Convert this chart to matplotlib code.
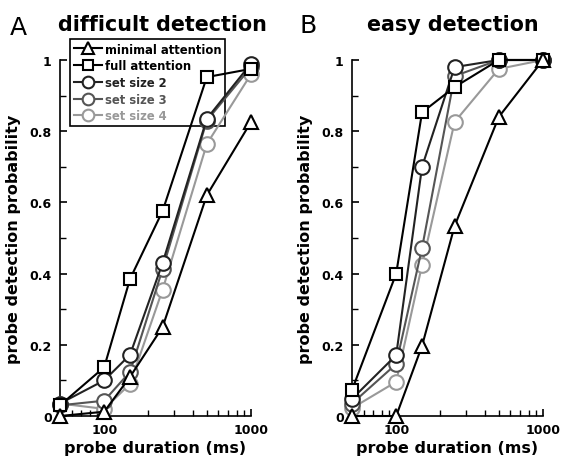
import matplotlib
matplotlib.use("Agg")
import matplotlib.pyplot as plt
from matplotlib.ticker import FixedLocator, NullFormatter

durations = [50, 100, 150, 250, 500, 1000]
series_names = ["minimal attention", "full attention", "set size 2", "set size 3", "set size 4"]

# difficult detection (panel A)
diff_minimal = [0.0, 0.012, 0.11, 0.25, 0.62, 0.826]
diff_full = [0.03, 0.137, 0.385, 0.576, 0.952, 0.975]
diff_ss2 = [0.035, 0.10, 0.172, 0.43, 0.835, 0.99]
diff_ss3 = [0.03, 0.043, 0.124, 0.413, 0.83, 0.98]
diff_ss4 = [0.035, 0.02, 0.09, 0.355, 0.764, 0.96]

# easy detection (panel B)
easy_minimal = [0.0, 0.0, 0.197, 0.534, 0.84, 1.0]
easy_full = [0.073, 0.40, 0.853, 0.924, 1.0, 1.0]
easy_ss2 = [0.048, 0.171, 0.70, 0.98, 1.0, 1.0]
easy_ss3 = [0.035, 0.146, 0.472, 0.955, 1.0, 1.0]
easy_ss4 = [0.022, 0.096, 0.424, 0.826, 0.975, 1.0]

markers = ["^", "s", "o", "o", "o"]
msizes = [10, 9, 10.5, 10.5, 10.5]
colors = ["black", "black", "#222222", "#555555", "#999999"]

plt.rcParams["font.family"] = "DejaVu Sans"
plt.rcParams["font.weight"] = "bold"

fig = plt.figure(figsize=(5.61, 4.60), dpi=100)
axA = fig.add_axes([60/561, 43/460, 191/561, 356/460])
axB = fig.add_axes([352/561, 43/460, 191/561, 356/460])


def draw(ax, data):
    for i in [4, 3, 2, 1, 0]:
        ax.plot(durations, data[i], marker=markers[i], ms=msizes[i], color=colors[i],
                mfc="white", mec=colors[i], mew=1.5, lw=1.5, clip_on=False,
                label=series_names[i], zorder=3 + (4 - i))
    ax.set_xscale("log")
    ax.set_xlim(50, 1000)
    ax.set_ylim(0, 1)
    ax.spines["top"].set_visible(False)
    ax.spines["right"].set_visible(False)
    ax.spines["left"].set_linewidth(1.2)
    ax.spines["bottom"].set_linewidth(1.2)
    ax.xaxis.set_major_locator(FixedLocator([100, 1000]))
    ax.set_xticklabels(["100", "1000"])
    ax.xaxis.set_minor_locator(FixedLocator([50, 60, 70, 80, 90, 200, 300, 400, 500, 600, 700, 800, 900]))
    ax.xaxis.set_minor_formatter(NullFormatter())
    ax.set_yticks([0, 0.2, 0.4, 0.6, 0.8, 1.0])
    ax.set_yticklabels(["0", "0.2", "0.4", "0.6", "0.8", "1"])
    ax.set_yticks([0.1, 0.3, 0.5, 0.7, 0.9], minor=True)
    ax.tick_params(which="major", direction="in", length=5, width=1.2, labelsize=9)
    ax.tick_params(axis="y", which="major", pad=6)
    ax.tick_params(axis="x", which="major", pad=5)
    ax.tick_params(which="minor", direction="in", length=4, width=1.0)
    ax.set_xlabel("probe duration (ms)", fontsize=11.5, fontweight="bold", labelpad=3)
    ax.set_ylabel("probe detection probability", fontsize=11.5, fontweight="bold", labelpad=6)


draw(axA, [diff_minimal, diff_full, diff_ss2, diff_ss3, diff_ss4])
draw(axB, [easy_minimal, easy_full, easy_ss2, easy_ss3, easy_ss4])

handles, labels = axA.get_legend_handles_labels()
leg = axA.legend(handles[::-1], labels[::-1], loc="upper left", bbox_to_anchor=(10/191, 1 + 21/356),
                 fontsize=8.4, frameon=True, fancybox=False, handlelength=2.4, handletextpad=0.3,
                 labelspacing=0.32, borderpad=0.3, borderaxespad=0, markerscale=0.8, framealpha=1)
leg.get_frame().set_edgecolor("black")
leg.get_frame().set_linewidth(1.2)
leg.set_zorder(2)
for txt, c in zip(leg.get_texts(), colors):
    txt.set_color(c)
    txt.set_fontweight("bold")

fig.text(10/561, 1 - 35/460, "A", fontsize=18, fontweight="normal", va="baseline", ha="left")
fig.text(58/561, 1 - 31/460, "difficult detection", fontsize=14.9, fontweight="bold", va="baseline", ha="left")
fig.text(299/561, 1 - 33/460, "B", fontsize=18, fontweight="normal", va="baseline", ha="left")
fig.text(367/561, 1 - 31/460, "easy detection", fontsize=14.9, fontweight="bold", va="baseline", ha="left")

fig.savefig("out.png", dpi=100)
